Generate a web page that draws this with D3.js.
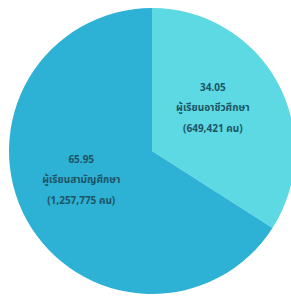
<!DOCTYPE html>
<html><head><meta charset="utf-8">
<script src="https://cdn.jsdelivr.net/npm/d3@7"></script>
<style>html,body{margin:0;padding:0;background:#fff;}</style>
</head><body>
<svg id="c" width="291" height="300"></svg>
<script>
const categories = ["ผู้เรียนอาชีวศึกษา", "ผู้เรียนสามัญศึกษา"];
const percents = [34.05, 65.95];
const counts = ["649,421", "1,257,775"];
const colors = ["#5cd9e3", "#2db1d5"];

const svg = d3.select("#c");
const cx = 152, cy = 151, r = 143;
const g = svg.append("g").attr("transform", `translate(${cx},${cy})`);
const data = categories.map((c, i) => ({cat: c, pct: percents[i], cnt: counts[i], color: colors[i]}));
const pie = d3.pie().sort(null).value(d => d.pct);
const arc = d3.arc().innerRadius(0).outerRadius(r);
const labelArc = d3.arc().innerRadius(75).outerRadius(75);
const arcs = pie(data);
g.selectAll("path").data(arcs).join("path")
  .attr("d", arc).attr("fill", d => d.data.color);

const lbl = g.selectAll("g.lbl").data(arcs).join("g").attr("class", "lbl")
  .attr("transform", d => { const [x, y] = labelArc.centroid(d); return `translate(${x - 5},${y - 27})`; });
lbl.each(function(d) {
  const t = d3.select(this);
  const lines = [d.data.pct.toFixed(2), d.data.cat, `(${d.data.cnt} คน)`];
  lines.forEach((s, i) => {
    t.append("text").attr("y", i * 20.5).attr("text-anchor", "middle")
      .attr("dominant-baseline", "middle")
      .attr("font-family", "'Noto Sans', 'Noto Sans Thai', sans-serif")
      .attr("font-size", 10).attr("font-weight", "bold")
      .attr("fill", "#1d5566").text(s);
  });
});
</script>
</body></html>
